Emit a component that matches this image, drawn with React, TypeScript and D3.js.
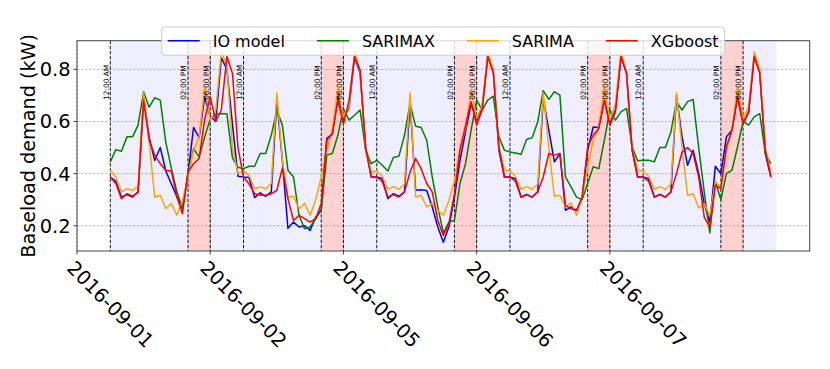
import { useEffect, useRef } from 'react'
import * as d3 from 'd3'

const W = 830
const H = 369
// axes box in page pixels
const BOX = { left: 77, right: 809.7, top: 40.7, bottom: 251 }

const DAYS = 5
const HOURS = 24

// hourly baseload demand (kW), five days of 24 hours each
const ioModel = [
  0.387, 0.37, 0.31, 0.32, 0.31, 0.33, 0.69, 0.54, 0.45, 0.5, 0.41, 0.36, 0.31, 0.265, 0.4, 0.577, 0.538, 0.695, 0.62, 0.6, 0.845, 0.8, 0.59, 0.39,
  0.387, 0.385, 0.308, 0.326, 0.313, 0.33, 0.68, 0.45, 0.19, 0.214, 0.195, 0.2, 0.182, 0.233, 0.26, 0.535, 0.551, 0.7, 0.618, 0.65, 0.849, 0.785, 0.503, 0.387,
  0.387, 0.381, 0.304, 0.323, 0.313, 0.33, 0.675, 0.336, 0.338, 0.335, 0.272, 0.195, 0.137, 0.195, 0.31, 0.451, 0.56, 0.669, 0.605, 0.656, 0.849, 0.8, 0.49, 0.387,
  0.387, 0.38, 0.31, 0.32, 0.31, 0.33, 0.688, 0.567, 0.445, 0.477, 0.259, 0.272, 0.259, 0.304, 0.49, 0.579, 0.577, 0.682, 0.592, 0.644, 0.849, 0.785, 0.49, 0.387,
  0.387, 0.38, 0.31, 0.32, 0.31, 0.33, 0.7, 0.541, 0.432, 0.49, 0.4, 0.285, 0.214, 0.428, 0.4, 0.541, 0.567, 0.695, 0.592, 0.637, 0.849, 0.79, 0.477, 0.387,
]

const sarimax = [
  0.445, 0.492, 0.486, 0.541, 0.541, 0.586, 0.714, 0.655, 0.691, 0.682, 0.52, 0.42, 0.33, 0.265, 0.4, 0.496, 0.464, 0.54, 0.61, 0.628, 0.63, 0.63, 0.46, 0.424,
  0.419, 0.428, 0.428, 0.477, 0.477, 0.547, 0.644, 0.586, 0.413, 0.387, 0.24, 0.188, 0.195, 0.227, 0.259, 0.471, 0.477, 0.547, 0.65, 0.605, 0.624, 0.644, 0.49, 0.438,
  0.451, 0.432, 0.41, 0.462, 0.467, 0.547, 0.669, 0.582, 0.577, 0.528, 0.387, 0.272, 0.172, 0.214, 0.221, 0.362, 0.438, 0.567, 0.682, 0.644, 0.682, 0.697, 0.541, 0.49,
  0.483, 0.479, 0.474, 0.531, 0.538, 0.599, 0.718, 0.685, 0.714, 0.701, 0.387, 0.349, 0.31, 0.3, 0.362, 0.426, 0.419, 0.528, 0.644, 0.605, 0.637, 0.65, 0.503, 0.449,
  0.451, 0.451, 0.445, 0.5, 0.5, 0.56, 0.676, 0.644, 0.676, 0.685, 0.5, 0.33, 0.172, 0.37, 0.3, 0.4, 0.413, 0.503, 0.6, 0.586, 0.618, 0.63, 0.477, 0.438,
]

const sarima = [
  0.413, 0.387, 0.33, 0.342, 0.336, 0.351, 0.71, 0.52, 0.31, 0.317, 0.265, 0.285, 0.24, 0.297, 0.387, 0.49, 0.541, 0.733, 0.605, 0.644, 0.87, 0.81, 0.5, 0.4,
  0.41, 0.394, 0.342, 0.349, 0.342, 0.362, 0.71, 0.45, 0.31, 0.313, 0.265, 0.285, 0.24, 0.3, 0.387, 0.49, 0.567, 0.727, 0.618, 0.656, 0.868, 0.79, 0.49, 0.406,
  0.41, 0.39, 0.34, 0.35, 0.34, 0.36, 0.71, 0.31, 0.317, 0.272, 0.285, 0.26, 0.24, 0.297, 0.374, 0.503, 0.573, 0.72, 0.612, 0.663, 0.868, 0.8, 0.5, 0.413,
  0.41, 0.39, 0.34, 0.35, 0.34, 0.36, 0.71, 0.5, 0.313, 0.317, 0.272, 0.287, 0.24, 0.31, 0.426, 0.528, 0.579, 0.733, 0.605, 0.669, 0.868, 0.79, 0.5, 0.413,
  0.41, 0.39, 0.34, 0.35, 0.34, 0.36, 0.71, 0.5, 0.317, 0.323, 0.269, 0.285, 0.24, 0.368, 0.349, 0.49, 0.567, 0.733, 0.612, 0.656, 0.868, 0.8, 0.5, 0.406,
]

const xgboost = [
  0.387, 0.362, 0.304, 0.323, 0.313, 0.329, 0.682, 0.528, 0.471, 0.438, 0.413, 0.41, 0.31, 0.246, 0.406, 0.438, 0.458, 0.608, 0.695, 0.6, 0.644, 0.849, 0.785, 0.5,
  0.387, 0.36, 0.323, 0.317, 0.317, 0.323, 0.336, 0.422, 0.304, 0.22, 0.24, 0.227, 0.214, 0.227, 0.285, 0.528, 0.554, 0.68, 0.59, 0.68, 0.849, 0.797, 0.497, 0.388,
  0.387, 0.37, 0.31, 0.32, 0.31, 0.33, 0.406, 0.458, 0.419, 0.362, 0.33, 0.22, 0.163, 0.208, 0.323, 0.49, 0.586, 0.676, 0.586, 0.644, 0.849, 0.785, 0.503, 0.387,
  0.387, 0.37, 0.31, 0.32, 0.31, 0.33, 0.387, 0.477, 0.471, 0.477, 0.278, 0.265, 0.259, 0.31, 0.503, 0.547, 0.573, 0.682, 0.586, 0.637, 0.849, 0.785, 0.496, 0.387,
  0.387, 0.37, 0.31, 0.32, 0.31, 0.33, 0.4, 0.483, 0.5, 0.477, 0.387, 0.233, 0.195, 0.355, 0.342, 0.503, 0.567, 0.695, 0.592, 0.637, 0.849, 0.785, 0.49, 0.387,
]

const seriesNames = ['IO model', 'SARIMAX', 'SARIMA', 'XGboost']
const seriesColors = ['#0000ff', '#008000', '#ffa500', '#ff0000']

const dateTicks = [-6, 18, 42, 66, 90]
const dateLabels = ['2016-09-01', '2016-09-02', '2016-09-05', '2016-09-06', '2016-09-07']
const yTicks = [0.2, 0.4, 0.6, 0.8]

// hour-of-day markers drawn each day
const markerHours = [0, 14, 18]
const markerLabels = ['12:00 AM', '02:00 PM', '06:00 PM']
const peakStart = 14
const peakEnd = 18

const FONT = 'DejaVu Sans, sans-serif'

export default function App() {
  const svgRef = useRef<SVGSVGElement>(null)

  useEffect(() => {
    if (!svgRef.current) return
    const svg = d3.select(svgRef.current)
    svg.selectAll('*').remove()

    const x = d3.scaleLinear().domain([-6, 126]).range([BOX.left, BOX.right])
    const y = d3.scaleLinear().domain([0.103, 0.91]).range([BOX.bottom, BOX.top])

    const inPeak = (h: number) => h % HOURS >= peakStart && h % HOURS < peakEnd

    // shaded hours: red in the afternoon peak window, light blue elsewhere
    const hours = d3.range(DAYS * HOURS)
    svg.append('g')
      .selectAll('rect')
      .data(hours)
      .enter()
      .append('rect')
      .attr('x', h => x(h))
      .attr('width', h => x(h + 1) - x(h))
      .attr('y', BOX.top)
      .attr('height', BOX.bottom - BOX.top)
      .attr('fill', h => (inPeak(h) ? '#ff0000' : '#0000ff'))
      .attr('fill-opacity', h => (inPeak(h) ? 0.18 : 0.065))

    // grid
    const grid = svg.append('g').attr('stroke', '#a8a8a8').attr('stroke-width', 0.8).attr('stroke-dasharray', '2.5,1.5')
    yTicks.forEach(t => {
      grid.append('line').attr('x1', BOX.left).attr('x2', BOX.right).attr('y1', y(t)).attr('y2', y(t))
    })
    dateTicks.forEach(t => {
      grid.append('line').attr('x1', x(t)).attr('x2', x(t)).attr('y1', BOX.top).attr('y2', BOX.bottom)
    })

    // day markers
    const markers: { pos: number; label: string }[] = []
    for (let d = 0; d < DAYS; d++) {
      markerHours.forEach((mh, i) => markers.push({ pos: d * HOURS + mh, label: markerLabels[i] }))
    }
    svg.append('g')
      .selectAll('line')
      .data(markers)
      .enter()
      .append('line')
      .attr('x1', m => x(m.pos))
      .attr('x2', m => x(m.pos))
      .attr('y1', BOX.top)
      .attr('y2', BOX.bottom)
      .attr('stroke', '#000')
      .attr('stroke-width', 0.9)
      .attr('stroke-dasharray', '3.5,1.6')

    // series
    const allSeries = [ioModel, sarimax, sarima, xgboost]
    const line = d3.line<number>().x((_, i) => x(i)).y(v => y(v))
    allSeries.forEach((vals, i) => {
      svg.append('path')
        .datum(vals)
        .attr('d', line)
        .attr('fill', 'none')
        .attr('stroke', seriesColors[i])
        .attr('stroke-width', 1.5)
        .attr('stroke-linejoin', 'round')
    })

    // marker labels
    svg.append('g')
      .selectAll('text')
      .data(markers)
      .enter()
      .append('text')
      .attr('transform', m => `translate(${x(m.pos) - 1.7},${y(0.683)}) rotate(-90)`)
      .attr('font-family', FONT)
      .attr('font-size', 7.4)
      .attr('fill', '#000')
      .text(m => m.label)

    // spines
    svg.append('rect')
      .attr('x', BOX.left)
      .attr('y', BOX.top)
      .attr('width', BOX.right - BOX.left)
      .attr('height', BOX.bottom - BOX.top)
      .attr('fill', 'none')
      .attr('stroke', '#444')
      .attr('stroke-width', 1)

    // y axis
    const yAxis = svg.append('g')
    yTicks.forEach(t => {
      yAxis.append('line').attr('x1', BOX.left - 3.5).attr('x2', BOX.left).attr('y1', y(t)).attr('y2', y(t)).attr('stroke', '#444')
      yAxis.append('text')
        .attr('x', BOX.left - 6.5)
        .attr('y', y(t))
        .attr('dy', '0.36em')
        .attr('text-anchor', 'end')
        .attr('font-family', FONT)
        .attr('font-size', 19.4)
        .text(t.toFixed(1))
    })
    svg.append('text')
      .attr('transform', `translate(34.5,${(BOX.top + BOX.bottom) / 2}) rotate(-90)`)
      .attr('text-anchor', 'middle')
      .attr('font-family', FONT)
      .attr('font-size', 19.2)
      .text('Baseload demand (kW)')

    // x axis
    const xAxis = svg.append('g')
    dateTicks.forEach((t, i) => {
      xAxis.append('line').attr('x1', x(t)).attr('x2', x(t)).attr('y1', BOX.bottom).attr('y2', BOX.bottom + 3.5).attr('stroke', '#444')
      xAxis.append('text')
        .attr('transform', `translate(${x(t)},${BOX.bottom + 7}) rotate(45)`)
        .attr('x', 0)
        .attr('y', 16)
        .attr('font-family', FONT)
        .attr('font-size', 19.4)
        .text(dateLabels[i])
    })

    // legend
    const legend = svg.append('g')
    const box = legend.append('rect')
      .attr('x', 161.7)
      .attr('y', 27)
      .attr('height', 28.3)
      .attr('rx', 3)
      .attr('fill', '#fff')
      .attr('fill-opacity', 0.8)
      .attr('stroke', '#cccccc')
      .attr('stroke-width', 1)
    let cx = 167.7
    seriesNames.forEach((name, i) => {
      legend.append('line')
        .attr('x1', cx).attr('x2', cx + 32)
        .attr('y1', 40.7).attr('y2', 40.7)
        .attr('stroke', seriesColors[i])
        .attr('stroke-width', 1.5)
      const t = legend.append('text')
        .attr('x', cx + 45)
        .attr('y', 46.6)
        .attr('font-family', FONT)
        .attr('font-size', 16)
        .text(name)
      const tw = (t.node() as SVGTextElement).getComputedTextLength()
      cx += 45 + tw + (i < seriesNames.length - 1 ? 32 : 0)
    })
    box.attr('width', cx + 6 - 161.7)
  }, [])

  return (
    <svg
      ref={svgRef}
      width={W}
      height={H}
      style={{ position: 'absolute', left: 0, top: 0, background: '#fff' }}
    />
  )
}
